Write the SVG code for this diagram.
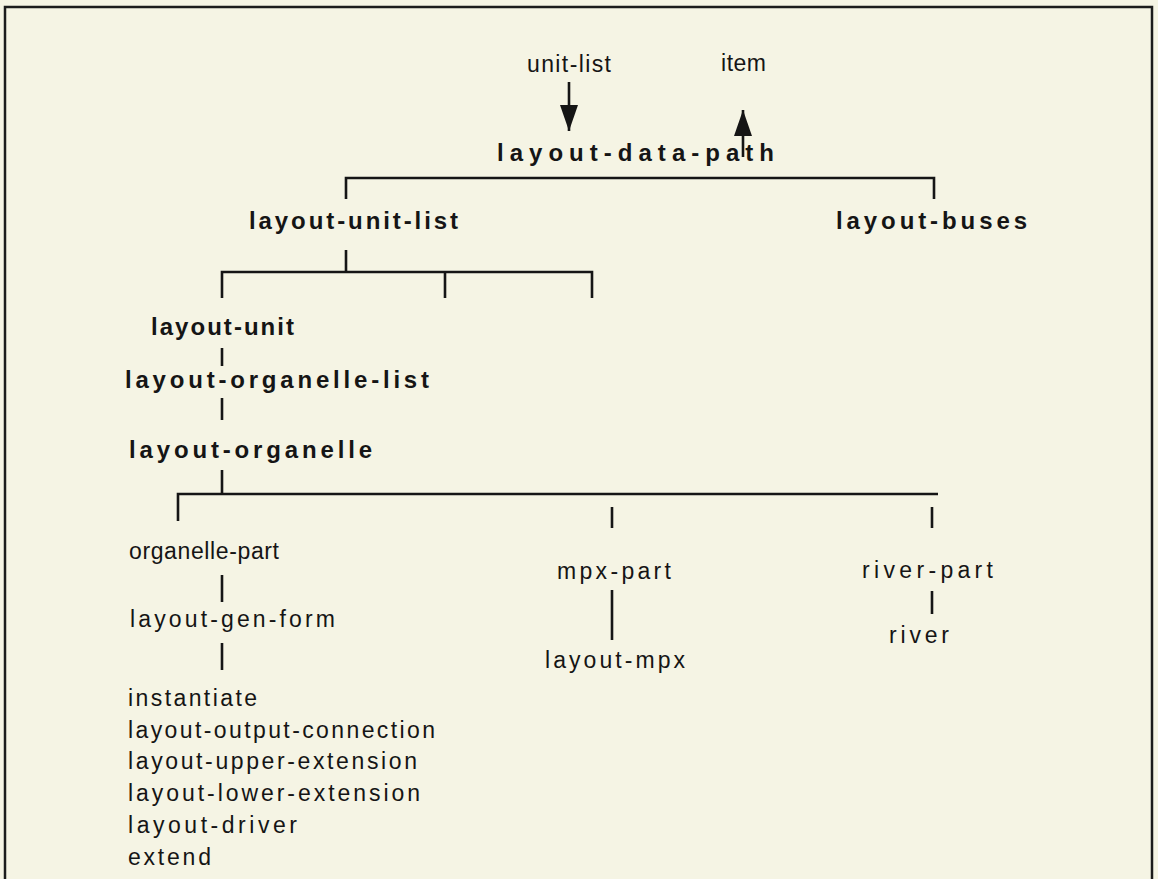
<svg xmlns="http://www.w3.org/2000/svg" width="1158" height="879" viewBox="0 0 1158 879">
<style>
.bg{fill:#f5f4e4}
.frame{fill:none;stroke:#1c1c1c;stroke-width:2.5}
.b{font-family:"Liberation Sans",Arial,sans-serif;font-weight:bold;font-size:24px;fill:#151515}
.n{font-family:"Liberation Sans",Arial,sans-serif;font-size:23px;fill:#151515}
.c line,.c path{stroke:#151515;stroke-width:2.6;fill:none}
</style>
<defs>
<marker id="ah" viewBox="0 0 26 18" refX="26" refY="9" markerWidth="26" markerHeight="18" markerUnits="userSpaceOnUse" orient="auto">
<path d="M0,0 L26,9 L0,18 z" fill="#151515"/>
</marker>
</defs>
<rect class="bg" x="0" y="0" width="1158" height="879"/>
<path class="frame" d="M5,880 V7 H1152 V880"/>

<g id="unit-list"><text class="n" x="527" y="72" textLength="84">unit-list</text></g>
<g id="item"><text class="n" x="721" y="71" textLength="45">item</text></g>
<g id="layout-data-path"><text class="b" x="497" y="161" textLength="277">layout-data-path</text></g>
<g id="layout-unit-list"><text class="b" x="249" y="229" textLength="209">layout-unit-list</text></g>
<g id="layout-buses"><text class="b" x="836" y="229" textLength="191">layout-buses</text></g>
<g id="layout-unit"><text class="b" x="151" y="335" textLength="143">layout-unit</text></g>
<g id="layout-organelle-list"><text class="b" x="125" y="388" textLength="304">layout-organelle-list</text></g>
<g id="layout-organelle"><text class="b" x="129" y="458" textLength="243">layout-organelle</text></g>
<g id="organelle-part"><text class="n" x="129" y="559" textLength="150">organelle-part</text></g>
<g id="layout-gen-form"><text class="n" x="130" y="627" textLength="205">layout-gen-form</text></g>
<g id="mpx-part"><text class="n" x="557" y="579" textLength="114">mpx-part</text></g>
<g id="layout-mpx"><text class="n" x="545" y="668" textLength="140">layout-mpx</text></g>
<g id="river-part"><text class="n" x="862" y="578" textLength="131">river-part</text></g>
<g id="river"><text class="n" x="889" y="643" textLength="60">river</text></g>
<g id="leaf-list">
<text class="n" x="128" y="706" textLength="129">instantiate</text>
<text class="n" x="128" y="738" textLength="307">layout-output-connection</text>
<text class="n" x="128" y="769" textLength="289">layout-upper-extension</text>
<text class="n" x="128" y="801" textLength="292">layout-lower-extension</text>
<text class="n" x="128" y="833" textLength="169">layout-driver</text>
<text class="n" x="128" y="865" textLength="83">extend</text>
</g>

<g id="connectors" class="c">
<line x1="569" y1="82" x2="569" y2="131" marker-end="url(#ah)"/>
<line x1="743" y1="157" x2="743" y2="110" marker-end="url(#ah)"/>
<path d="M346,199 V178 H934 V199"/>
<path d="M346,250 V272"/>
<path d="M222,298 V272 H592 V298 M445,272 V298"/>
<path d="M222,348 V366"/>
<path d="M222,398 V420"/>
<path d="M222,470 V494"/>
<path d="M178,521 V494 H938"/>
<path d="M612,507 V528"/>
<path d="M932,507 V528"/>
<path d="M222,575 V602"/>
<path d="M222,643 V670"/>
<path d="M612,590 V640"/>
<path d="M932,591 V614"/>
</g>
</svg>
